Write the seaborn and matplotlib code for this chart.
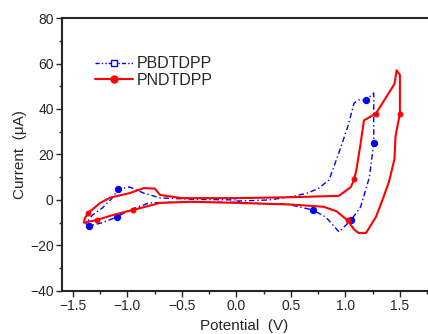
import numpy as np
import pandas as pd
import matplotlib.pyplot as plt
import seaborn as sns

# =========================
# Dados lidos do voltamograma
# =========================

pbdt_potential = [0.00, 0.30, 0.51, 0.65, 0.75, 0.85, 0.94, 1.02, 1.08, 1.12, 1.19, 1.26,
                  1.26, 1.26, 1.22, 1.14, 1.05, 0.94, 0.82, 0.70, 0.48, 0.20, 0.00,
                  -0.30, -0.60, -0.80, -0.98, -1.10, -1.23, -1.35, -1.38, -1.37, -1.32,
                  -1.23, -1.13, -1.09, -0.98, -0.85, -0.70, -0.40, 0.00]
pbdt_current = [-0.5, 0.0, 1.5, 3.0, 5.0, 8.8, 20.7, 32.0, 42.6, 44.0, 44.0, 47.0,
                38.0, 25.0, 10.0, -3.0, -9.0, -14.0, -7.5, -4.4, -2.0, -1.5, -1.0,
                -1.0, -1.0, -1.3, -4.4, -7.5, -10.0, -11.4, -10.5, -9.7, -6.6,
                -3.5, 1.3, 4.8, 5.7, 3.0, 0.9, 0.3, 0.0]

pndt_potential = [0.00, 0.50, 0.94, 1.05, 1.08, 1.10, 1.12, 1.14, 1.17, 1.28, 1.45,
                  1.47, 1.50, 1.50, 1.46, 1.45, 1.40, 1.34, 1.28, 1.19, 1.12,
                  1.08, 1.02, 0.92, 0.80, 0.50, 0.00, -0.40, -0.70, -0.95, -1.13,
                  -1.28, -1.40, -1.39, -1.36, -1.25, -1.16, -0.98, -0.85, -0.75, -0.70,
                  -0.50, 0.00]
pndt_current = [0.8, 1.2, 1.8, 5.7, 9.0, 13.0, 19.0, 25.0, 35.0, 38.0, 51.0,
                57.0, 55.0, 38.0, 28.0, 18.0, 8.0, 0.0, -7.5, -14.5, -14.5,
                -13.0, -9.0, -5.0, -3.0, -2.0, -1.3, -0.8, -1.3, -4.4, -6.6,
                -8.8, -10.0, -8.0, -5.7, -1.3, 1.0, 3.0, 5.2, 5.0, 2.2,
                0.8, 0.8]

df_b = pd.DataFrame({'Potential': pbdt_potential, 'Current': pbdt_current})
df_r = pd.DataFrame({'Potential': pndt_potential, 'Current': pndt_current})

# =========================
# Figura
# =========================

sns.set_style('ticks')
plt.rcParams['font.family'] = ['Liberation Sans', 'DejaVu Sans']

fig = plt.figure(figsize=(4.28, 3.34), dpi=100)
ax = fig.add_axes([0.145, 0.129, 0.853, 0.817])

sns.lineplot(
    data=df_b, x='Potential', y='Current', sort=False, estimator=None,
    color='blue', linewidth=1.0, linestyle=(0, (4, 2, 1, 2)),
    marker='o', markersize=4.5, markevery=[10, 13, 16, 19, 27, 29, 35],
    markerfacecolor='blue', markeredgecolor='blue', ax=ax
)

sns.lineplot(
    data=df_r, x='Potential', y='Current', sort=False, estimator=None,
    color='red', linewidth=1.5,
    marker='o', markersize=3.5, markevery=[4, 9, 13, 22, 29, 31, 34],
    markerfacecolor='red', markeredgecolor='red', ax=ax
)

# legenda manual (marcadores como na figura original)
h1 = plt.Line2D([], [], color='blue', linewidth=1.0, linestyle=(0, (3, 1.5, 1, 1.5, 1, 1.5)),
                marker='s', markersize=5, markerfacecolor='white', markeredgecolor='blue')
h2 = plt.Line2D([], [], color='red', linewidth=1.5, marker='o', markersize=5,
                markerfacecolor='red', markeredgecolor='red')
ax.legend([h1, h2], ['PBDTDPP', 'PNDTDPP'], loc='upper left',
          bbox_to_anchor=(0.05, 0.912), frameon=False, fontsize=11.5,
          handlelength=2.4, handletextpad=0.25, labelspacing=0.1)

ax.set_xlim(-1.6, 1.75)
ax.set_ylim(-40, 80)
ax.set_xticks([-1.5, -1.0, -0.5, 0.0, 0.5, 1.0, 1.5])
ax.set_xticks(np.arange(-1.5, 1.8, 0.25), minor=True)
ax.set_yticks([-40, -20, 0, 20, 40, 60, 80])
ax.set_yticks(np.arange(-40, 81, 10), minor=True)

ax.tick_params(which='major', direction='out', length=4, width=1, labelsize=10, pad=2)
ax.tick_params(which='minor', direction='out', length=2, width=1)

for s in ['left', 'bottom', 'top']:
    ax.spines[s].set_linewidth(1.5)
ax.spines['right'].set_visible(False)

ax.set_xlabel('Potential  (V)', fontsize=11, labelpad=4)
ax.set_ylabel('Current  (\u03bcA)', fontsize=11, labelpad=2)

plt.savefig('out.png', dpi=100)
